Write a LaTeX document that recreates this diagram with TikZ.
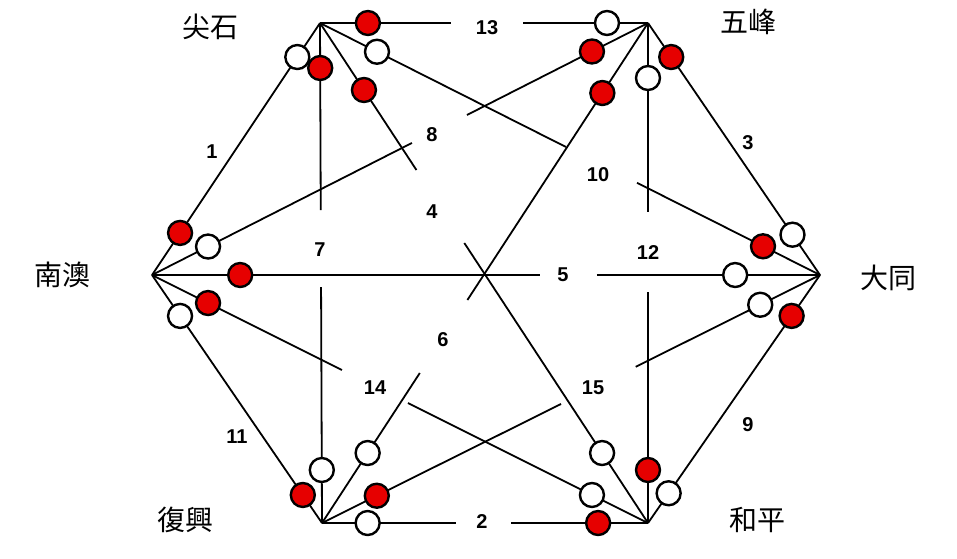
\documentclass[tikz,border=0pt]{standalone}
\usepackage{fontspec}
\setmainfont{Liberation Sans}
\newfontfamily\cjk{Noto Sans CJK TC}
\usetikzlibrary{calc}
\definecolor{dotred}{RGB}{230,0,0}
\tikzset{
  x=1pt,y=-1pt,
  link/.style={line width=1.8pt,black},
  dotR/.style={circle,draw=black,line width=2.4pt,fill=dotred,minimum size=24pt,inner sep=0pt},
  dotW/.style={circle,draw=black,line width=2.4pt,fill=white,minimum size=24pt,inner sep=0pt},
  num/.style={font=\fontsize{20}{20}\selectfont\bfseries},
  place/.style={font=\cjk\fontsize{28}{28}\selectfont}
}
\begin{document}
\begin{tikzpicture}
\useasboundingbox (0,0) rectangle (957,558);
\coordinate (N) at (152,275);
\coordinate (J) at (320,23);
\coordinate (W) at (648,23);
\coordinate (D) at (820,275);
\coordinate (H) at (648,523);
\coordinate (F) at (322,523);
% lines: id/A/B/gap1/gap2/t1/col1/t2/col2/labelx/labely
\foreach \i/\a/\b/\ga/\gb/\ta/\ca/\tb/\cb/\lx/\ly in {
  1/N/J/1/1/0.167/dotR/0.865/dotW/212/152,
  13/J/W/0.40/0.62/0.146/dotR/0.875/dotW/487/28,
  3/W/D/1/1/0.135/dotR/0.84/dotW/748/143,
  9/D/H/1/1/0.165/dotR/0.88/dotW/748/425,
  2/F/H/0.41/0.58/0.14/dotW/0.847/dotR/482/522,
  11/F/N/1/1/0.113/dotR/0.835/dotW/237/437,
  7/J/F/0.374/0.528/0.09/dotR/0.894/dotW/320/250,
  12/W/H/0.378/0.538/0.11/dotW/0.894/dotR/648/253,
  5/N/D/0.581/0.666/0.132/dotR/0.873/dotW/563/275,
  8/N/W/0.524/0.635/0.113/dotW/0.887/dotR/432/135,
  10/J/D/0.492/0.634/0.114/dotW/0.886/dotR/598/175,
  4/J/H/0.294/0.44/0.134/dotR/0.86/dotW/432/212,
  6/F/W/0.30/0.446/0.14/dotW/0.86/dotR/443/340,
  14/N/H/0.383/0.516/0.113/dotR/0.887/dotW/375/388,
  15/F/D/0.48/0.63/0.11/dotR/0.88/dotW/593/388}
{
  \draw[link] (\a) -- ($(\a)!\ga!(\b)$);
  \draw[link] ($(\a)!\gb!(\b)$) -- (\b);
  \node[\ca] (c\i a) at ($(\a)!\ta!(\b)$) {};
  \node[\cb] (c\i b) at ($(\a)!\tb!(\b)$) {};
  \node[num] (l\i) at (\lx,\ly) {\i};
}
\node[place] (pJ) at (210,27) {尖石};
\node[place] (pW) at (748,22) {五峰};
\node[place] (pD) at (888,278) {大同};
\node[place] (pH) at (757,520) {和平};
\node[place] (pF) at (185,520) {復興};
\node[place] (pN) at (62,275) {南澳};
\end{tikzpicture}
\end{document}
